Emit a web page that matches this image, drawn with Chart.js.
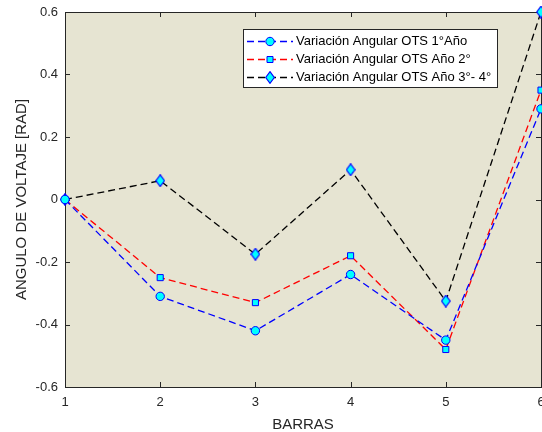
<!DOCTYPE html>
<html lang="es">
<head>
<meta charset="UTF-8">
<title>Variación Angular OTS</title>
<script src="https://cdn.jsdelivr.net/npm/chart.js"></script>
<style>
  html, body { margin: 0; padding: 0; background: #ffffff; }
  #wrap { width: 542px; height: 432px; }
</style>
</head>
<body>
<div id="wrap"><canvas id="chart" width="542" height="432"></canvas></div>
<script>
// Datos
const barras = [1, 2, 3, 4, 5, 6];
const ano1 = [0, -0.31, -0.42, -0.24, -0.45, 0.29];
const ano2 = [0, -0.25, -0.33, -0.18, -0.48, 0.35];
const ano34 = [0, 0.06, -0.175, 0.095, -0.325, 0.6];
const yTicks = [-0.6, -0.4, -0.2, 0, 0.2, 0.4, 0.6];
const nombres = [
    "Variación Angular OTS 1°Año",
    "Variación Angular OTS Año 2°",
    "Variación Angular OTS Año 3°- 4°"
];

const FONT = "Arial, 'Liberation Sans', Helvetica, sans-serif";
const AXIS = "#262626";
const FILL = "#00ffff";
const EDGE = "#0000ff";
const DASH = [7, 4];

// diamante alto estilo MATLAB
function makeDiamond() {
    const c = document.createElement("canvas");
    c.width = 10; c.height = 13;
    const g = c.getContext("2d");
    g.beginPath();
    g.moveTo(5, 0.7);
    g.lineTo(9.3, 6.5);
    g.lineTo(5, 12.3);
    g.lineTo(0.7, 6.5);
    g.closePath();
    g.fillStyle = FILL;
    g.fill();
    g.lineWidth = 1.2;
    g.strokeStyle = EDGE;
    g.stroke();
    return c;
}
const diamond = makeDiamond();

const toXY = vals => vals.map((v, i) => ({ x: barras[i], y: v }));

const series = [
    { data: ano1, color: "#0000ff", style: "circle", radius: 4.2 },
    { data: ano2, color: "#ff0000", style: "rect", radius: 4.3 },
    { data: ano34, color: "#000000", style: diamond, radius: 5 }
];

// quitar el relleno lateral que Chart.js reserva para las etiquetas
function noSidePadding(s) {
    s.paddingLeft = 0;
    s.paddingRight = 0;
    if (s._margins) { s._margins.left = 0; s._margins.right = 0; }
}

// fondo, marco y marcas hacia dentro
const matlabAxes = {
    id: "matlabAxes",
    beforeDraw(chart) {
        const { ctx, chartArea: a } = chart;
        ctx.save();
        ctx.fillStyle = "#e6e4d2";
        ctx.fillRect(a.left, a.top, a.right - a.left, a.bottom - a.top);
        ctx.restore();
    },
    beforeDatasetsDraw(chart) {
        const { ctx, chartArea: a, scales } = chart;
        ctx.save();
        ctx.strokeStyle = AXIS;
        ctx.lineWidth = 1;
        ctx.beginPath();
        const t = 5;
        barras.forEach(v => {
            const px = Math.round(scales.x.getPixelForValue(v)) + 0.5;
            ctx.moveTo(px, a.bottom); ctx.lineTo(px, a.bottom - t);
            ctx.moveTo(px, a.top); ctx.lineTo(px, a.top + t);
        });
        yTicks.forEach(v => {
            const py = Math.round(scales.y.getPixelForValue(v)) + 0.5;
            ctx.moveTo(a.left, py); ctx.lineTo(a.left + t, py);
            ctx.moveTo(a.right, py); ctx.lineTo(a.right - t, py);
        });
        ctx.stroke();
        ctx.strokeRect(Math.round(a.left) + 0.5, Math.round(a.top) + 0.5,
            Math.round(a.right - a.left), Math.round(a.bottom - a.top));
        ctx.restore();
    },
    afterDraw(chart) {
        // leyenda en recuadro
        const ctx = chart.ctx;
        const bx = 243, by = 29, bw = 254, bh = 58;
        ctx.save();
        ctx.fillStyle = "#ffffff";
        ctx.fillRect(bx, by, bw, bh);
        ctx.strokeStyle = "#262626";
        ctx.lineWidth = 1;
        ctx.strokeRect(bx + 0.5, by + 0.5, bw, bh);
        chart.data.datasets.forEach((ds, i) => {
            const y = 41 + i * 18 + 0.5;
            ctx.strokeStyle = ds.borderColor;
            ctx.lineWidth = 1.3;
            ctx.setLineDash(DASH);
            ctx.beginPath();
            ctx.moveTo(247, y); ctx.lineTo(293, y);
            ctx.stroke();
            ctx.setLineDash([]);
            ctx.fillStyle = FILL;
            ctx.strokeStyle = EDGE;
            ctx.lineWidth = 1;
            if (ds.pointStyle === "circle") {
                ctx.beginPath();
                ctx.arc(270, y, ds.pointRadius, 0, Math.PI * 2);
                ctx.fill();
                ctx.stroke();
            } else if (ds.pointStyle === "rect") {
                ctx.beginPath();
                ctx.rect(267, y - 3, 6, 6);
                ctx.fill();
                ctx.stroke();
            } else {
                ctx.drawImage(ds.pointStyle, 270 - ds.pointStyle.width / 2, y - ds.pointStyle.height / 2);
            }
            ctx.fillStyle = "#000000";
            ctx.font = "13px " + FONT;
            ctx.textAlign = "left";
            ctx.textBaseline = "middle";
            ctx.fillText(ds.label, 296, y);
        });
        ctx.restore();
    }
};

new Chart(document.getElementById("chart"), {
    type: "line",
    data: {
        datasets: series.map((s, i) => ({
            label: nombres[i],
            data: toXY(s.data),
            borderColor: s.color,
            borderWidth: 1.3,
            borderDash: DASH,
            pointStyle: s.style,
            pointRadius: s.radius,
            pointHoverRadius: s.radius,
            pointBackgroundColor: FILL,
            pointBorderColor: EDGE,
            pointBorderWidth: 1,
            tension: 0,
            fill: false,
            clip: false
        }))
    },
    options: {
        responsive: false,
        animation: false,
        events: [],
        layout: { autoPadding: false, padding: { top: 12, right: 1, left: 0, bottom: 0 } },
        plugins: {
            legend: { display: false },
            tooltip: { enabled: false }
        },
        scales: {
            x: {
                type: "linear",
                min: 1,
                max: 6,
                afterBuildTicks: s => { s.ticks = barras.map(v => ({ value: v })); },
                afterFit: s => { s.height = 45; noSidePadding(s); },
                grid: { display: false, drawTicks: false },
                border: { display: false },
                ticks: {
                    padding: 8,
                    color: AXIS,
                    autoSkip: false,
                    maxRotation: 0,
                    font: { family: FONT, size: 13 }
                },
                title: {
                    display: true,
                    text: "BARRAS",
                    color: AXIS,
                    padding: { top: 0, bottom: 0 },
                    font: { family: FONT, size: 15, lineHeight: 1 }
                }
            },
            y: {
                min: -0.6,
                max: 0.6,
                afterBuildTicks: s => { s.ticks = yTicks.map(v => ({ value: v })); },
                afterFit: s => { s.width = 65; s.paddingTop = 0; s.paddingBottom = 0; },
                grid: { display: false, drawTicks: false },
                border: { display: false },
                ticks: {
                    padding: 7,
                    color: AXIS,
                    font: { family: FONT, size: 13 },
                    callback: v => String(Math.round(v * 10) / 10)
                },
                title: {
                    display: true,
                    text: "ANGULO DE VOLTAJE [RAD]",
                    color: AXIS,
                    padding: { top: 14, bottom: 0 },
                    font: { family: FONT, size: 15, lineHeight: 1 }
                }
            }
        }
    },
    plugins: [matlabAxes]
});
</script>
</body>
</html>
